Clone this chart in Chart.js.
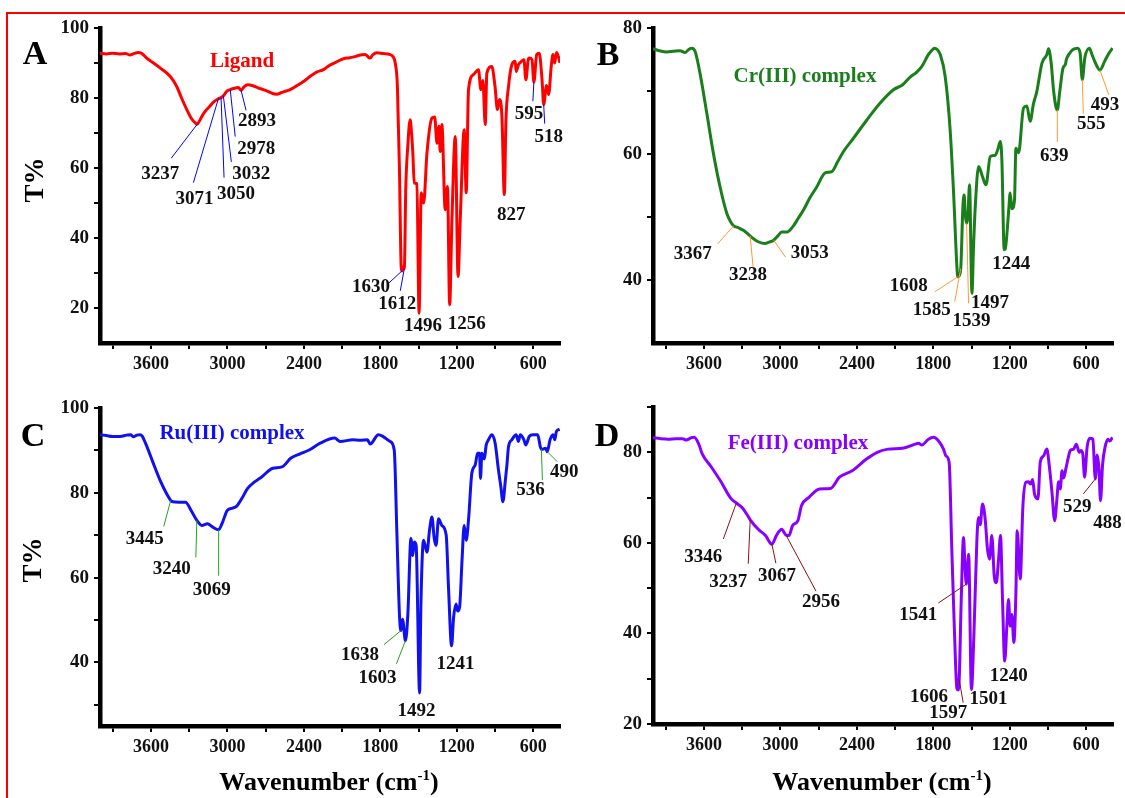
<!DOCTYPE html>
<html>
<head>
<meta charset="utf-8">
<title>FT-IR spectra</title>
<script src="https://cdn.jsdelivr.net/npm/chart.js@4.4.0/dist/chart.umd.min.js"></script>
<style>
    body {
        margin: 0;
        width: 1125px;
        height: 798px;
        background: #fff;
        position: relative;
        overflow: hidden;
        font-family: "Liberation Serif", "Times New Roman", serif;
    }
    canvas { position: absolute; }
    .frame {
        position: absolute;
        left: 6px;
        top: 12px;
        width: 1200px;
        height: 900px;
        border-left: 2px solid #f00;
        border-top: 2px solid #f00;
    }
    .txt {
        position: absolute;
        font-weight: bold;
        line-height: 1;
        white-space: nowrap;
        transform: translate(-50%, -50%);
    }
    .ylab { transform: translate(-50%, -50%) rotate(-90deg); font-size: 27px; }
    .xlab { font-size: 26px; }
    .xlab sup { font-size: 15px; vertical-align: 10px; }
    .letter { font-size: 34px; }
    .name { font-size: 21px; }
</style>
</head>
<body>
<div class="frame"></div>

<canvas id="chartA" width="590" height="395" style="left:0;top:0"></canvas>
<canvas id="chartB" width="572" height="395" style="left:553px;top:0"></canvas>
<canvas id="chartC" width="590" height="390" style="left:0;top:380px"></canvas>
<canvas id="chartD" width="572" height="390" style="left:553px;top:380px"></canvas>

<div class="txt letter" style="left:35px;top:53px">A</div>
<div class="txt letter" style="left:608px;top:54px">B</div>
<div class="txt letter" style="left:33px;top:435px">C</div>
<div class="txt letter" style="left:607px;top:435px">D</div>

<div class="txt name" style="left:242px;top:60px;color:#ff0000">Ligand</div>
<div class="txt name" style="left:805px;top:75px;color:#1a7f1a">Cr(III) complex</div>
<div class="txt name" style="left:232px;top:432px;color:#1010f0">Ru(III) complex</div>
<div class="txt name" style="left:798px;top:442px;color:#8800ff">Fe(III) complex</div>

<div class="txt ylab" style="left:34px;top:180px">T%</div>
<div class="txt ylab" style="left:32px;top:560px">T%</div>
<div class="txt xlab" style="left:329px;top:781px">Wavenumber (cm<sup>-1</sup>)</div>
<div class="txt xlab" style="left:882px;top:781px">Wavenumber (cm<sup>-1</sup>)</div>

<script>
// ---- Ligand ----
const wnA = [4000, 3950, 3900, 3850, 3800, 3764, 3740, 3700, 3680, 3650, 3634, 3580, 3529, 3450, 3398, 3360, 3319, 3280, 3250, 3237,
    3220, 3200, 3175, 3140, 3110, 3071, 3050, 3032, 3006, 2978, 2953, 2914, 2893, 2870, 2840, 2800, 2760, 2718, 2670, 2640,
    2613, 2580, 2540, 2508, 2460, 2403, 2350, 2300, 2246, 2200, 2150, 2089, 2040, 1990, 1958, 1920, 1880, 1860, 1827, 1780,
    1723, 1700, 1683, 1666, 1650, 1636, 1630, 1618, 1612, 1600, 1585, 1566, 1555, 1545, 1534, 1513, 1496, 1479, 1460, 1434,
    1395, 1374, 1355, 1340, 1330, 1317, 1291, 1273, 1256, 1238, 1212, 1190, 1173, 1142, 1126, 1108, 1069, 1030, 1011, 995,
    977, 964, 925, 900, 881, 865, 846, 827, 814, 794, 768, 742, 734, 716, 700, 673, 658, 640, 631, 610,
    595, 573, 553, 531, 518, 496, 479, 459, 445, 432, 418, 400, 390];
const tA = [92.8, 92.6, 92.8, 92.6, 92.7, 92.3, 92.6, 93.0, 92.9, 92.0, 91.4, 90.0, 88.6, 86.2, 83.3, 80.0, 76.7, 74.0, 72.8, 72.5,
    73.4, 74.8, 76.2, 77.6, 78.8, 79.8, 80.1, 80.6, 81.9, 82.4, 82.7, 83.0, 82.2, 83.2, 83.8, 83.5, 82.9, 82.4, 81.7, 81.2,
    81.1, 81.5, 82.0, 82.4, 83.4, 84.7, 86.2, 87.4, 88.1, 89.3, 90.2, 91.2, 91.5, 91.9, 92.3, 92.4, 91.4, 92.3, 92.9, 92.7,
    92.4, 91.8, 90.0, 83.3, 59.5, 31.5, 30.6, 31.8, 31.2, 54.7, 66.0, 73.8, 70.0, 64.3, 55.7, 55.5, 18.5, 52.9, 50.0, 64.3,
    74.3, 74.6, 67.1, 71.9, 64.7, 72.4, 48.1, 54.7, 20.9, 45.2, 69.0, 29.0, 45.2, 70.9, 52.9, 82.4, 86.7, 88.1, 82.4, 85.0,
    72.4, 87.1, 89.0, 83.3, 76.7, 79.6, 74.8, 52.4, 73.8, 83.3, 89.5, 90.5, 87.6, 89.5, 90.2, 90.9, 85.2, 90.8, 91.4, 91.0,
    84.5, 92.4, 92.8, 85.2, 78.1, 83.6, 81.0, 89.0, 92.4, 90.0, 93.0, 91.5, 90.0];
const peaksA = [3237, 3071, 3050, 3032, 2978, 2893, 1630, 1612, 1496, 1256, 827, 595, 518];

// ---- Cr(III) complex ----
const wnB = [4000, 3950, 3892, 3840, 3788, 3749, 3720, 3696, 3670, 3631, 3578, 3526, 3474, 3421, 3390, 3367, 3330, 3291, 3260, 3238,
    3186, 3150, 3121, 3090, 3053, 3020, 2990, 2950, 2898, 2860, 2819, 2770, 2714, 2649, 2597, 2550, 2505, 2427, 2322, 2217,
    2113, 2040, 1982, 1930, 1890, 1838, 1800, 1791, 1770, 1746, 1707, 1668, 1641, 1615, 1608, 1600, 1585, 1568, 1558, 1550,
    1539, 1529, 1516, 1497, 1485, 1471, 1445, 1414, 1387, 1353, 1314, 1290, 1275, 1262, 1244, 1236, 1210, 1197, 1184, 1163,
    1152, 1131, 1092, 1066, 1040, 1014, 988, 948, 909, 896, 875, 857, 836, 827, 809, 783, 764, 756, 730, 704,
    668, 648, 631, 611, 575, 555, 527, 492, 456, 422, 394];
const tB = [76.7, 76.4, 76.2, 76.3, 76.4, 76.1, 76.6, 76.8, 76.3, 72.8, 66.5, 60.1, 54.8, 50.6, 49.2, 48.6, 48.3, 47.9, 47.4, 47.0,
    46.2, 45.9, 45.8, 46.0, 46.3, 47.0, 47.6, 47.6, 48.6, 49.8, 51.1, 53.0, 54.8, 57.0, 57.2, 58.8, 60.4, 62.5, 65.4, 68.1,
    70.2, 71.0, 72.2, 73.0, 73.9, 75.8, 76.7, 76.8, 76.6, 75.8, 72.3, 63.8, 53.8, 42.1, 40.5, 40.6, 41.8, 51.6, 53.5, 50.5,
    49.0, 50.0, 55.1, 37.9, 45.0, 51.6, 58.0, 56.4, 55.1, 59.6, 59.8, 61.0, 62.0, 59.0, 44.8, 44.9, 50.6, 53.8, 51.3, 52.7,
    60.9, 60.2, 67.3, 67.6, 65.2, 68.0, 69.9, 74.4, 75.8, 76.7, 74.4, 70.2, 67.3, 67.0, 69.7, 73.6, 74.2, 75.0, 76.0, 76.6,
    76.8, 76.0, 71.8, 75.3, 76.8, 75.8, 74.4, 73.3, 74.7, 76.0, 76.8];
const peaksB = [3367, 3238, 3053, 1608, 1585, 1539, 1497, 1244, 639, 555, 493];
// where each Cr(III) band label sits along the wavenumber axis
const peaksBAt = [3367, 3238, 3053, 1608, 1585, 1539, 1497, 1244, 827, 631, 493];

// ---- Ru(III) complex ----
const wnC = [4000, 3950, 3900, 3843, 3790, 3757, 3740, 3710, 3686, 3670, 3643, 3586, 3529, 3472, 3445, 3429, 3380, 3329, 3286, 3240,
    3201, 3157, 3115, 3069, 3043, 3000, 2960, 2929, 2886, 2843, 2790, 2729, 2644, 2572, 2501, 2430, 2358, 2272, 2158, 2115,
    2016, 1958, 1901, 1880, 1815, 1780, 1723, 1691, 1670, 1649, 1638, 1626, 1603, 1584, 1560, 1545, 1534, 1519, 1492, 1482,
    1461, 1434, 1414, 1395, 1377, 1363, 1343, 1317, 1283, 1265, 1241, 1225, 1206, 1193, 1178, 1159, 1142, 1126, 1108, 1082,
    1055, 1037, 1021, 1014, 1003, 984, 969, 951, 925, 899, 873, 854, 838, 820, 807, 794, 768, 734, 716, 702,
    673, 659, 631, 603, 565, 545, 536, 525, 502, 490, 468, 445, 431, 418, 393];
const tC = [93.7, 93.5, 93.3, 93.3, 93.6, 93.7, 93.2, 93.6, 93.7, 93.4, 91.7, 87.3, 83.0, 79.5, 78.2, 77.9, 77.8, 77.8, 75.9, 73.5,
    72.3, 72.7, 71.9, 71.3, 72.7, 75.9, 76.4, 76.8, 78.7, 81.0, 82.5, 83.8, 85.8, 86.1, 88.2, 89.2, 90.1, 91.7, 92.9, 92.1,
    92.5, 92.4, 92.5, 91.5, 93.7, 93.3, 92.1, 90.1, 70.4, 50.6, 47.5, 50.2, 45.1, 51.4, 69.2, 65.2, 68.4, 67.6, 32.8, 53.0,
    68.8, 66.0, 71.2, 74.3, 69.2, 67.6, 73.9, 72.3, 70.0, 57.7, 43.9, 50.6, 53.8, 52.1, 53.0, 64.0, 72.3, 68.8, 73.6, 84.6,
    86.6, 89.3, 89.3, 83.4, 89.3, 88.0, 91.3, 92.5, 93.7, 91.7, 85.4, 81.4, 77.9, 82.6, 86.4, 90.9, 92.5, 93.7, 92.1, 93.7,
    92.5, 91.3, 93.3, 93.7, 93.7, 90.9, 90.3, 90.3, 90.5, 89.7, 92.5, 93.7, 92.5, 94.5, 95.0];
const peaksC = [3445, 3240, 3069, 1638, 1603, 1492, 1241, 536, 490];

// ---- Fe(III) complex ----
const wnD = [4000, 3940, 3881, 3820, 3768, 3740, 3700, 3677, 3641, 3613, 3541, 3471, 3386, 3346, 3301, 3259, 3237, 3174, 3117, 3067,
    3032, 2990, 2956, 2933, 2905, 2863, 2835, 2778, 2693, 2608, 2537, 2438, 2325, 2240, 2155, 2042, 1943, 1917, 1890, 1838,
    1799, 1759, 1720, 1701, 1676, 1655, 1634, 1615, 1606, 1597, 1581, 1563, 1552, 1541, 1523, 1501, 1481, 1458, 1445, 1432,
    1414, 1393, 1375, 1359, 1341, 1322, 1306, 1288, 1273, 1257, 1240, 1223, 1210, 1197, 1184, 1168, 1152, 1142, 1118, 1097,
    1073, 1053, 1037, 1021, 1006, 979, 961, 935, 909, 890, 869, 848, 830, 817, 804, 790, 777, 759, 738, 726,
    699, 678, 655, 641, 627, 613, 593, 571, 548, 529, 514, 500, 488, 472, 452, 429, 414, 395];
const tD = [83.2, 83.0, 82.9, 83.0, 83.0, 82.7, 83.2, 83.3, 81.8, 79.6, 76.7, 73.7, 69.7, 68.8, 67.8, 66.1, 65.1, 63.0, 61.6, 59.7,
    61.6, 63.0, 61.7, 61.6, 63.8, 64.9, 68.2, 70.0, 71.9, 72.0, 74.5, 75.9, 78.5, 80.0, 80.7, 80.9, 81.8, 82.0, 81.6, 82.9,
    83.3, 82.5, 80.7, 79.2, 77.8, 58.6, 40.2, 27.8, 27.5, 29.8, 47.5, 61.2, 55.0, 50.9, 57.5, 27.6, 40.2, 60.8, 65.6, 64.0,
    68.6, 65.2, 58.6, 56.4, 61.6, 52.7, 51.2, 56.4, 61.6, 47.5, 33.9, 41.6, 47.5, 41.6, 44.2, 38.0, 49.0, 62.7, 52.0, 68.2,
    73.4, 73.5, 73.0, 74.0, 70.8, 69.7, 77.8, 79.2, 80.7, 77.0, 71.2, 64.9, 69.7, 73.5, 71.9, 75.9, 74.3, 76.5, 79.2, 80.4,
    80.7, 81.8, 80.0, 80.4, 79.6, 74.5, 81.2, 83.1, 82.9, 74.1, 79.4, 76.4, 69.3, 77.2, 81.2, 82.9, 82.5, 83.3];
const peaksD = [3346, 3237, 3067, 2956, 1541, 1606, 1597, 1501, 1240, 529, 488];

// axis ticks: every mark, and which of them carry a number
const xTicks = [3900, 3600, 3300, 3000, 2700, 2400, 2100, 1800, 1500, 1200, 900, 600];
const xTickLabels = [3600, 3000, 2400, 1800, 1200, 600];
const yTicksA = [20, 30, 40, 50, 60, 70, 80, 90, 100];
const yTicksB = [40, 50, 60, 70, 80];
const yTicksC = [30, 40, 50, 60, 70, 80, 90, 100];
const yTicksD = [20, 30, 40, 50, 60, 70, 80, 90];
const yTickLabels = [20, 40, 60, 80, 100];

// label placement in px from the band point: [leader dx, leader dy, text dx, text dy]
const placeA = [[-26, 34, -37, 50], [-25, 84, -24, 100], [3, 80, 15, 96], [8, 66, 28, 78], [5, 47, 26, 59], [5, 20, 16, 31],
    [-13, 12, -31, 16], [-4, 22, -7, 35], [null, null, 4, 13], [null, null, 17, 19], [null, null, 7, 20],
    [-1, 19, -5, 32], [1, 19, 5, 32]];
const placeB = [[-16, 18, -41, 28], [3, 31, -2, 39], [12, 17, 36, 13], [-23, 15, -49, 9], [-6, 33, -29, 41],
    [2, 80, 5, 98], [null, null, 18, 10], [null, null, 7, 14], [0, 32, -3, 46], [1, 34, 9, 44], [9, 25, 5, 35]];
const placeC = [[-7, 26, -26, 39], [-1, 37, -25, 49], [0, 46, -7, 60], [-17, 14, -41, 24], [-9, 23, -28, 37],
    [null, null, -3, 18], [null, null, 4, 18], [1, 31, -11, 41], [10, 10, 17, 20]];
const placeD = [[-13, 36, -33, 54], [-2, 44, -22, 62], [4, 19, 5, 32], [30, 56, 35, 67], [-28, 19, -48, 31],
    [null, null, -29, 7], [4, 23, -11, 33], [null, null, 17, 10], [null, null, 4, 15], [-12, 15, -18, 28], [null, null, 7, 22]];

const serif = '"Liberation Serif", "Times New Roman", serif';

// transmittance at any wavenumber
function valueAt(wn, t, w) {
    for (let i = 0; i < wn.length - 1; i++) {
        if (w <= wn[i] && w >= wn[i + 1]) {
            const f = (wn[i] - w) / (wn[i] - wn[i + 1]);
            return t[i] + f * (t[i + 1] - t[i]);
        }
    }
    return t[t.length - 1];
}

// band labels with thin leader lines
const peakLabels = {
    id: 'peakLabels',
    afterDatasetsDraw(chart, args, opts) {
        const ctx = chart.ctx;
        const xs = chart.scales.x, ys = chart.scales.y;
        ctx.save();
        ctx.font = 'bold 19px ' + serif;
        ctx.textAlign = 'center';
        ctx.textBaseline = 'middle';
        opts.peaks.forEach(function (p, i) {
            const at = opts.at[i];
            const px = xs.getPixelForValue(at);
            const py = ys.getPixelForValue(valueAt(opts.wn, opts.t, at));
            const pl = opts.place[i];
            if (pl[0] !== null) {
                ctx.strokeStyle = opts.leader;
                ctx.lineWidth = 1;
                ctx.beginPath();
                ctx.moveTo(px, py);
                ctx.lineTo(px + pl[0], py + pl[1]);
                ctx.stroke();
            }
            ctx.fillStyle = '#111';
            ctx.fillText(String(p), px + pl[2], py + pl[3]);
        });
        ctx.restore();
    }
};

function makePanel(id, wn, t, color, yMin, yMax, yTicks, peaks, at, place, leader, pad) {
    const ctx = document.getElementById(id).getContext('2d');
    const points = wn.map(function (w, i) { return {x: w, y: t[i]}; });

    new Chart(ctx, {
        type: 'line',
        data: {
            datasets: [{
                data: points,
                borderColor: color,
                borderWidth: 3,
                pointRadius: 0,
                cubicInterpolationMode: 'monotone',
                fill: false
            }]
        },
        options: {
            responsive: false,
            animation: false,
            events: [],
            layout: {padding: pad},
            plugins: {
                legend: {display: false},
                tooltip: {enabled: false},
                peakLabels: {wn: wn, t: t, peaks: peaks, at: at, place: place, leader: leader}
            },
            scales: {
                x: {
                    type: 'linear',
                    reverse: true,
                    min: 390,
                    max: 4000,
                    afterFit: function (s) { s.height = 30; },
                    afterBuildTicks: function (s) {
                        s.ticks = xTicks.map(function (v) { return {value: v}; });
                    },
                    border: {display: true, color: '#000', width: 4.5},
                    grid: {drawOnChartArea: false, drawTicks: true, tickLength: 6, color: '#000', lineWidth: 2},
                    ticks: {
                        autoSkip: false,
                        maxRotation: 0,
                        padding: 5,
                        color: '#111',
                        font: {family: serif, size: 18, weight: 'bold'},
                        callback: function (v) { return xTickLabels.indexOf(v) >= 0 ? String(v) : ''; }
                    }
                },
                y: {
                    min: yMin,
                    max: yMax,
                    afterFit: function (s) { s.width = 100; },
                    afterBuildTicks: function (s) {
                        s.ticks = yTicks.map(function (v) { return {value: v}; });
                    },
                    border: {display: true, color: '#000', width: 4.5},
                    grid: {drawOnChartArea: false, drawTicks: true, tickLength: 6, color: '#000', lineWidth: 2},
                    ticks: {
                        autoSkip: false,
                        padding: 5,
                        color: '#111',
                        font: {family: serif, size: 19, weight: 'bold'},
                        callback: function (v) { return yTickLabels.indexOf(v) >= 0 ? String(v) : ''; }
                    }
                }
            }
        },
        plugins: [peakLabels]
    });
}

makePanel('chartA', wnA, tA, '#ff0000', 10, 100, yTicksA, peaksA, peaksA, placeA, '#0000ff',
    {top: 28, right: 30, left: 0, bottom: 22});
makePanel('chartB', wnB, tB, '#1a7f1a', 30, 80, yTicksB, peaksB, peaksBAt, placeB, '#ff9933',
    {top: 28, right: 12, left: 0, bottom: 22});
makePanel('chartC', wnC, tC, '#1010f0', 25, 100, yTicksC, peaksC, peaksC, placeC, '#22a022',
    {top: 28, right: 30, left: 0, bottom: 14});
makePanel('chartD', wnD, tD, '#8800ff', 20, 90, yTicksD, peaksD, peaksD, placeD, '#8b1010',
    {top: 27, right: 12, left: 0, bottom: 16});
</script>
</body>
</html>
